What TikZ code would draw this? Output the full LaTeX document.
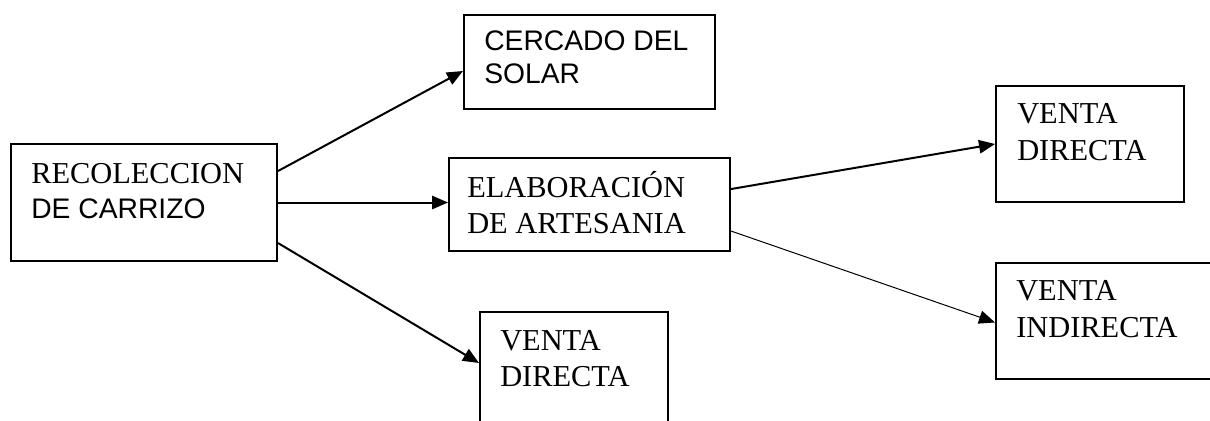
\documentclass[tikz,border=0pt]{standalone}
\usepackage{fontspec}
\setmainfont{Liberation Serif}
\newfontfamily\arialfont{Liberation Sans}
\usetikzlibrary{arrows.meta}
\tikzset{
  caja/.style={draw, line width=1.5pt, inner sep=0pt, anchor=north west},
  texto/.style={anchor=base west, inner sep=0pt, align=left, font=\fontsize{22.8}{27}\selectfont},
  flecha/.style={line width=1.5pt, -{Triangle[length=12pt,width=10pt]}},
}
\begin{document}
\begin{tikzpicture}[x=0.75pt,y=0.75pt,yscale=-1,xscale=1]
\useasboundingbox (0,0) rectangle (1210,421);

%Shape: Rectangle [recoleccion]
\node[caja, minimum width=199.5pt, minimum height=87.75pt] (recoleccion) at (10,143) {};
%Shape: Rectangle [cercado]
\node[caja, minimum width=188.25pt, minimum height=70.5pt] (cercado) at (463,14) {};
%Shape: Rectangle [elaboracion]
\node[caja, minimum width=210.75pt, minimum height=69.75pt] (elaboracion) at (448,157) {};
%Shape: Rectangle [venta directa, abajo]
\node[caja, minimum width=141pt, minimum height=90pt] (ventaA) at (479,311) {};
%Shape: Rectangle [venta directa, derecha]
\node[caja, minimum width=141pt, minimum height=87pt] (ventaB) at (995,85) {};
%Shape: Rectangle [venta indirecta]
\node[caja, minimum width=168.75pt, minimum height=87pt] (ventaC) at (995,262) {};

%Straight Lines
\draw[flecha] ([yshift=-23.6pt]recoleccion.east) -- ([yshift=6.75pt]cercado.west);
\draw[flecha] (recoleccion.east) -- (recoleccion.east -| elaboracion.west);
\draw[flecha] ([yshift=30.4pt]recoleccion.east) -- ([yshift=-6.75pt]ventaA.west);
\draw[flecha] ([yshift=-11.6pt]elaboracion.east) -- (ventaB.west);
\draw[flecha, line width=0.75pt] ([yshift=19.9pt]elaboracion.east) -- ([yshift=1.1pt]ventaC.west);

% Text Node
\node[texto, font=\fontsize{22.8}{26.25}\selectfont] (t1) at (31,218) {RECOLECCION\\\fontsize{21.2}{26.25}\arialfont DE CARRIZO};
% Text Node
\node[texto, font=\fontsize{21.2}{24.75}\selectfont\arialfont] (t2) at (484,83) {CERCADO DEL\\SOLAR};
% Text Node
\node[texto] (t3) at (467,233) {ELABORACIÓN\\DE ARTESANIA};
% Text Node
\node[texto] (t4) at (500,386) {VENTA\\DIRECTA};
% Text Node
\node[texto, font=\fontsize{22.8}{27.75}\selectfont] (t5) at (1017,160) {VENTA\\DIRECTA};
% Text Node
\node[texto, font=\fontsize{22.8}{27.75}\selectfont] (t6) at (1016,337) {VENTA\\INDIRECTA};

\end{tikzpicture}
\end{document}
